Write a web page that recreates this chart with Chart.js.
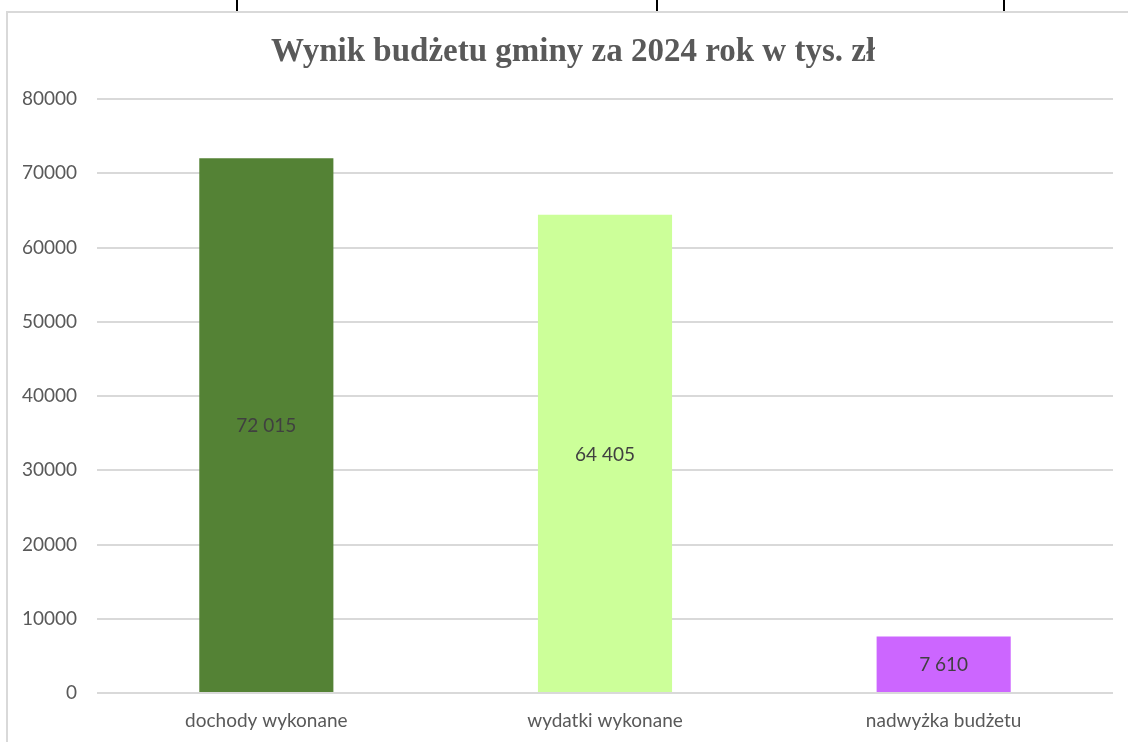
<!DOCTYPE html>
<html>
<head>
<meta charset="utf-8">
<script src="https://cdn.jsdelivr.net/npm/chart.js@4.4.1/dist/chart.umd.min.js"></script>
<style>
  html, body { margin: 0; padding: 0; background: #fff; width: 1128px; height: 742px; overflow: hidden; position: relative; }
  .tl { position: absolute; top: 0; width: 2px; height: 11px; background: #000; }
  #box { position: absolute; left: 6px; top: 11px; width: 1140px; height: 760px; border-left: 2px solid #d9d9d9; border-top: 2px solid #d9d9d9; }
  #wrap { position: absolute; left: 8px; top: 13px; width: 1120px; height: 729px; }
</style>
</head>
<body>
<div class="tl" style="left:236px"></div>
<div class="tl" style="left:656px"></div>
<div class="tl" style="left:1003px"></div>
<div id="box"></div>
<div id="wrap"><canvas id="c"></canvas></div>
<script>
const categories = ["dochody wykonane", "wydatki wykonane", "nadwyżka budżetu"];
const values = [72015, 64405, 7610];
const valueLabels = ["72 015", "64 405", "7 610"];
const barColors = ["#548235", "#CCFF99", "#CC66FF"];
const chartTitle = "Wynik budżetu gminy za 2024 rok w tys. zł";

const labelFont = "Lato, 'Open Sans', sans-serif";
const titleFont = "bold 33px 'Liberation Serif', 'Times New Roman', serif";

const centerLabels = {
  id: 'centerLabels',
  afterDatasetsDraw(chart) {
    const ctx = chart.ctx;
    const meta = chart.getDatasetMeta(0);
    ctx.save();
    ctx.font = "19px " + labelFont;
    ctx.fillStyle = "#404040";
    ctx.textAlign = "center";
    ctx.textBaseline = "middle";
    meta.data.forEach((bar, i) => {
      const y = (bar.y + bar.base) / 2;
      ctx.fillText(valueLabels[i], bar.x, y + 1);
    });
    ctx.restore();
  }
};

const shiftedTitle = {
  id: 'shiftedTitle',
  afterDraw(chart) {
    const ctx = chart.ctx;
    const tb = chart.titleBlock;
    ctx.save();
    ctx.font = titleFont;
    ctx.fillStyle = "#595959";
    ctx.textAlign = "center";
    ctx.textBaseline = "middle";
    ctx.fillText(chartTitle, 565, tb.top + 20 + 33 * 1.2 / 2);
    ctx.restore();
  }
};

new Chart(document.getElementById('c'), {
  type: 'bar',
  data: {
    labels: categories,
    datasets: [{
      data: values,
      backgroundColor: barColors,
      borderWidth: 0,
      categoryPercentage: 1.0,
      barPercentage: 0.396
    }]
  },
  options: {
    responsive: true,
    maintainAspectRatio: false,
    animation: false,
    devicePixelRatio: 1,
    layout: { padding: { left: 0, right: 15, top: 0, bottom: 0 } },
    plugins: {
      legend: { display: false },
      tooltip: { enabled: false },
      title: {
        display: true,
        text: chartTitle,
        color: "rgba(0,0,0,0)",
        font: { family: "'Liberation Serif', 'Times New Roman', serif", size: 33, weight: 'bold' },
        padding: { top: 20, bottom: 26.4 }
      }
    },
    scales: {
      y: {
        min: 0,
        max: 80000,
        ticks: {
          stepSize: 10000,
          color: "#595959",
          font: { family: labelFont, size: 19 },
          padding: 20,
          callback: v => String(v)
        },
        grid: { color: "#d9d9d9", lineWidth: 2, drawTicks: false },
        border: { display: false },
        afterFit(scale) { scale.width = 89; }
      },
      x: {
        ticks: {
          color: "#595959",
          font: { family: labelFont, size: 19 },
          padding: 16,
          maxRotation: 0
        },
        grid: { display: false, drawTicks: false },
        border: { display: false },
        afterFit(scale) { scale.height = 49; }
      }
    }
  },
  plugins: [centerLabels, shiftedTitle]
});
</script>
</body>
</html>
